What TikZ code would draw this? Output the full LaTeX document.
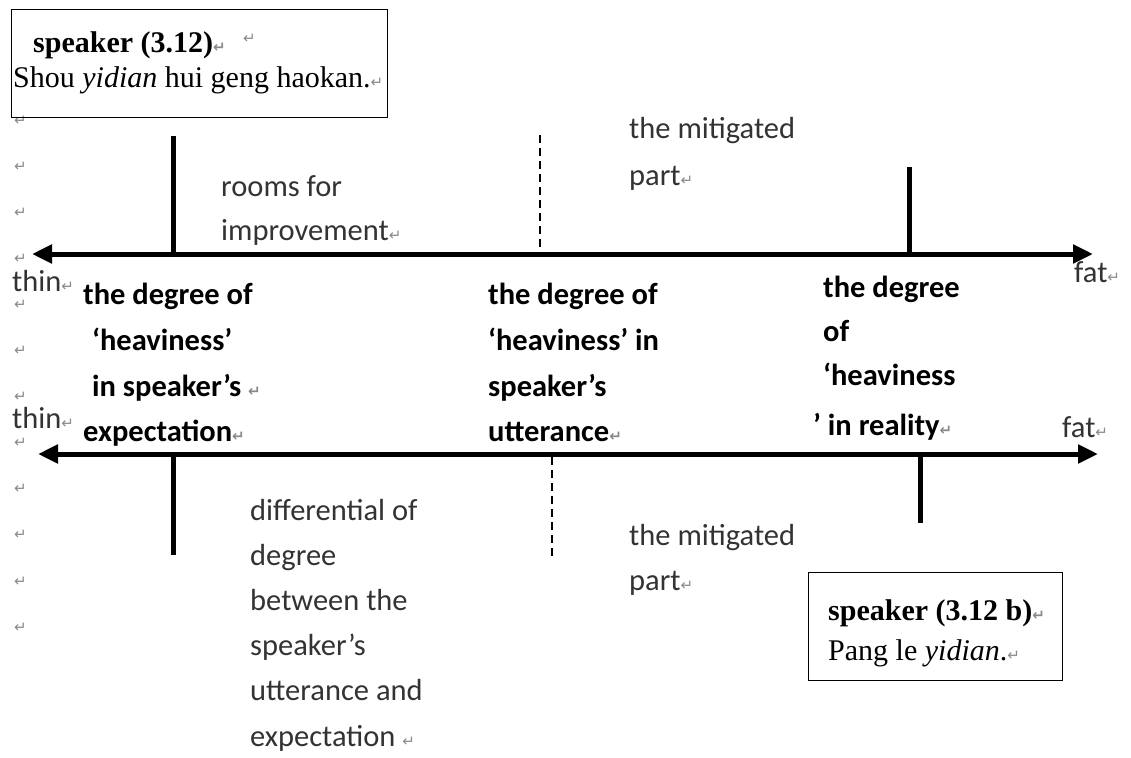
\documentclass[tikz,border=0pt]{standalone}
\usepackage{fontspec}
\setmainfont{Liberation Serif}
\newfontfamily\labfont{Carlito}
\newfontfamily\markfont{DejaVu Sans}
\usetikzlibrary{arrows.meta}
\definecolor{labgray}{HTML}{333333}
\definecolor{markgray}{HTML}{8A8A8A}
\newcommand\retmark{{\markfont\fontsize{15}{15}\selectfont\color{markgray}↵}}
\tikzset{
  lbl/.style={anchor=base west, inner sep=0pt, text=labgray,
    font=\labfont\fontsize{30.5}{30.5}\selectfont},
  blbl/.style={anchor=base west, inner sep=0pt, text=black,
    font=\labfont\bfseries\fontsize{30.5}{30.5}\selectfont},
  serif/.style={anchor=base west, inner sep=0pt, text=black,
    font=\fontsize{30}{30}\selectfont},
  pmark/.style={anchor=base west, inner sep=0pt, text=markgray,
    font=\markfont\fontsize{15}{15}\selectfont},
  frame/.style={draw, line width=1.4pt, anchor=north west, inner sep=0pt},
  axis/.style={line width=5pt,
    {Triangle[length=20pt,width=18pt]}-{Triangle[length=20pt,width=18pt]}},
  tickline/.style={line width=5pt},
  dashline/.style={line width=2.5pt, dash pattern=on 8pt off 5pt},
}
\begin{document}
\begin{tikzpicture}[x=1pt,y=-1pt]
  \useasboundingbox (0,0) rectangle (1131,757);
  \fill[white] (0,0) rectangle (1131,757);

  % paragraph marks down the left margin
  \foreach \k in {0,...,11}
    \node[pmark] (lm\k) at (14,{125+46.1*\k}) {↵};

  % quotation boxes
  \node[frame, minimum width=376pt, minimum height=108pt] (boxA) at (11,9) {};
  \node[serif] (boxAtitle) at (33,53) {\bfseries speaker (3.12)\retmark};
  \node[pmark] (boxAmark) at (243,44) {↵};
  \node[serif] (boxAtext) at (13,88) {Shou \textit{yidian} hui geng haokan.\retmark};

  \node[frame, minimum width=254pt, minimum height=108pt] (boxB) at (808,572) {};
  \node[serif] (boxBtitle) at (828,620) {\bfseries speaker (3.12 b)\retmark};
  \node[serif] (boxBtext) at (828,660) {Pang le \textit{yidian}.\retmark};

  % the two scales
  \coordinate (topL) at (32,254);
  \coordinate (topR) at (1093,254);
  \coordinate (botL) at (38,454);
  \coordinate (botR) at (1098,454);
  \draw[axis] (topL) -- (topR);
  \draw[axis] (botL) -- (botR);

  % marks on the upper scale
  \coordinate (u1a) at (173,136); \coordinate (u1b) at (173,254);
  \coordinate (u2a) at (540,135); \coordinate (u2b) at (540,254);
  \coordinate (u3a) at (909,167); \coordinate (u3b) at (909,254);
  \draw[tickline] (u1a) -- (u1b);
  \draw[dashline] (u2a) -- (u2b);
  \draw[tickline] (u3a) -- (u3b);

  % marks on the lower scale
  \coordinate (l1a) at (173,454); \coordinate (l1b) at (173,555);
  \coordinate (l2a) at (552,457); \coordinate (l2b) at (552,557);
  \coordinate (l3a) at (920,454); \coordinate (l3b) at (920,523);
  \draw[tickline] (l1a) -- (l1b);
  \draw[dashline] (l2a) -- (l2b);
  \draw[tickline] (l3a) -- (l3b);

  % scale ends
  \node[lbl] (thinA) at (12,291) {thin\retmark};
  \node[lbl] (fatA) at (1074,282) {fat\retmark};
  \node[lbl] (thinB) at (12,428) {thin\retmark};
  \node[lbl] (fatB) at (1062,437) {fat\retmark};

  % labels above the upper scale
  \node[lbl] (room1) at (221,196) {rooms for};
  \node[lbl] (room2) at (221,240) {improvement\retmark};
  \node[lbl] (mitA1) at (629,139) {the mitigated};
  \node[lbl] (mitA2) at (629,185) {part\retmark};

  % degrees between the scales
  \node[blbl] (exp1) at (83,304) {the degree of};
  \node[blbl] (exp2) at (92,350) {‘heaviness’};
  \node[blbl] (exp3) at (92,396) {in speaker’s \retmark};
  \node[blbl] (exp4) at (83,441) {expectation\retmark};

  \node[blbl] (utt1) at (488,304) {the degree of};
  \node[blbl] (utt2) at (488,350) {‘heaviness’ in};
  \node[blbl] (utt3) at (488,396) {speaker’s};
  \node[blbl] (utt4) at (488,441) {utterance\retmark};

  \node[blbl] (real1) at (823,297) {the degree};
  \node[blbl] (real2) at (823,341) {of};
  \node[blbl] (real3) at (823,385) {‘heaviness};
  \node[blbl] (real4) at (813,435) {’ in reality\retmark};

  % labels below the lower scale
  \node[lbl] (dif1) at (250,520) {differential of};
  \node[lbl] (dif2) at (250,565) {degree};
  \node[lbl] (dif3) at (250,610) {between the};
  \node[lbl] (dif4) at (250,655) {speaker’s};
  \node[lbl] (dif5) at (250,700) {utterance and};
  \node[lbl] (dif6) at (250,746) {expectation \retmark};

  \node[lbl] (mitB1) at (629,545) {the mitigated};
  \node[lbl] (mitB2) at (629,590) {part\retmark};
\end{tikzpicture}
\end{document}
